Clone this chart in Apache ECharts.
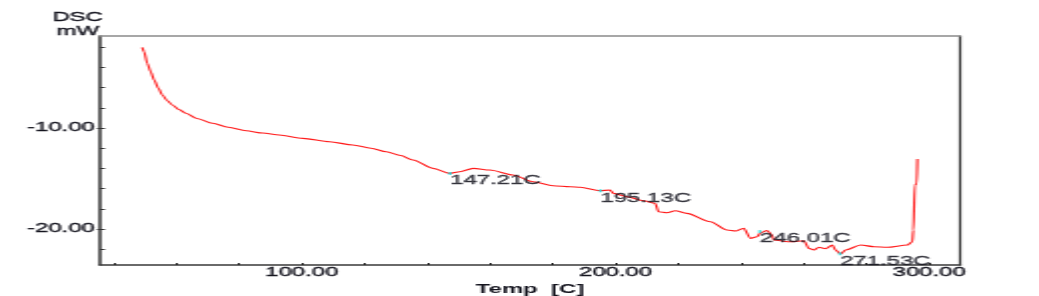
<!DOCTYPE html>
<html>
<head>
<meta charset="utf-8">
<script src="https://cdn.jsdelivr.net/npm/echarts@6/dist/echarts.min.js"></script>
<style>
html,body{margin:0;padding:0;background:#fff;overflow:hidden;}
#chart{width:520px;height:296px;transform:scaleX(1.998);transform-origin:0 0;}
</style>
</head>
<body>
<div id="chart"></div>
<script>
// Temperature (C) and DSC signal (mW)
var temps = [49.1, 49.7, 50.7, 51.8, 52.9, 54.25, 55.5, 57.1, 58.7, 60.8, 63.0, 66.5, 71.5, 76.5, 82.2, 87.5, 92.8, 100.3, 108.8, 116.2, 122.0, 126.9, 131.5, 135.4, 141.8, 147.1, 150.3, 154.6, 159.9, 167.3, 173.7, 180.1, 185.5, 188.7, 195.0, 198.2, 199.3, 203.6, 208.9, 212.6, 213.7, 216.4, 219.0, 222.7, 230.2, 235.5, 238.2, 240.8, 243.0, 245.1, 246.2, 248.3, 249.9, 250.4, 255.8, 260.0, 261.6, 263.2, 264.8, 266.9, 269.1, 270.1, 271.7, 273.3, 278.1, 282.4, 286.6, 293.0, 294.6, 294.9, 295.4, 296.0, 296.2];
var dsc = [-2.01, -2.45, -3.59, -4.43, -5.25, -6.07, -6.73, -7.30, -7.72, -8.17, -8.54, -9.05, -9.53, -9.93, -10.27, -10.50, -10.69, -11.02, -11.36, -11.68, -12.00, -12.35, -12.72, -13.17, -13.99, -14.49, -14.33, -13.99, -14.16, -14.65, -15.32, -15.71, -15.81, -15.87, -16.21, -16.14, -16.47, -16.80, -17.20, -17.46, -18.29, -18.39, -18.19, -18.45, -19.28, -20.10, -20.20, -19.93, -20.92, -20.76, -20.37, -20.15, -20.59, -21.09, -21.26, -21.16, -21.91, -22.08, -21.81, -21.95, -21.58, -22.08, -22.48, -22.08, -21.58, -21.75, -21.81, -21.58, -21.26, -20.10, -15.64, -15.48, -13.07];

// Annotated peaks
var peakTemps = [147.21, 195.13, 246.01, 271.53];
var peakDsc = [-14.49, -16.21, -20.25, -22.45];
var peakLabels = ['147.21C', '195.13C', '246.01C', '271.53C'];

// Axis ticks
var xMin = 35.6, xMax = 309.8;
var yMin = -23.56, yMax = -0.89;
var xTicks = [40, 60, 80, 100, 120, 140, 160, 180, 200, 220, 240, 260, 280, 300];
var xTickLabels = [100, 200, 300];
var yTicks = [-22, -20, -18, -16, -14, -12, -10, -8, -6, -4, -2];
var yTickLabels = [-20, -10];

var FONT = 'Liberation Sans, Arial, sans-serif';
var TXT = '#15151f';
var TB = {textBorderColor: TXT, textBorderWidth: 0.35};

var chart = echarts.init(document.getElementById('chart'), null, {renderer: 'canvas'});
chart.setOption({
  animation: false,
  backgroundColor: '#ffffff',
  grid: {left: 50, right: 39.5, top: 36, bottom: 31, containLabel: false, outerBoundsMode: 'none'},
  graphic: [{
    type: 'text', x: 38.8, y: 11,
    style: {text: 'DSC\nmW', align: 'center', verticalAlign: 'top', fill: TXT,
      font: '12px ' + FONT, lineHeight: 13.5, stroke: TXT, lineWidth: 0.35}
  }],
  xAxis: [{
    type: 'value', min: xMin, max: xMax, position: 'bottom',
    name: 'Temp  [C]', nameLocation: 'middle', nameGap: 10,
    nameTextStyle: {color: TXT, fontSize: 12, fontFamily: FONT, fontWeight: 'bold'},
    axisLine: {show: true, lineStyle: {color: '#3a3a3a', width: 1.5}},
    axisTick: {show: true, inside: true, length: 2, customValues: xTicks, lineStyle: {color: '#222', width: 1}},
    axisLabel: Object.assign({show: true, customValues: xTickLabels, margin: 2, color: TXT, fontSize: 12, fontFamily: FONT,
      formatter: function (v) { return v.toFixed(2); }}, TB),
    splitLine: {show: false}
  }, {
    type: 'value', min: xMin, max: xMax, position: 'top',
    axisLine: {show: true, lineStyle: {color: '#8a8a8a', width: 1.5}},
    axisTick: {show: false}, axisLabel: {show: false}, splitLine: {show: false}
  }],
  yAxis: [{
    type: 'value', min: yMin, max: yMax, position: 'left',
    axisLine: {show: true, lineStyle: {color: '#333', width: 1.5}},
    axisTick: {show: true, inside: true, length: 2.5, customValues: yTicks, lineStyle: {color: '#333', width: 1}},
    axisLabel: Object.assign({show: true, customValues: yTickLabels, margin: 2.5, color: TXT, fontSize: 12, fontFamily: FONT,
      formatter: function (v) { return v.toFixed(2); }}, TB),
    splitLine: {show: false}
  }, {
    type: 'value', min: yMin, max: yMax, position: 'left',
    axisLine: {show: false},
    axisTick: {show: true, inside: false, length: 1.5, customValues: yTickLabels, lineStyle: {color: '#333', width: 1}},
    axisLabel: {show: false}, splitLine: {show: false}
  }, {
    type: 'value', min: yMin, max: yMax, position: 'right',
    axisLine: {show: true, lineStyle: {color: '#333', width: 1.2}},
    axisTick: {show: false}, axisLabel: {show: false}, splitLine: {show: false}
  }],
  series: [{
    type: 'line',
    xAxisIndex: 0, yAxisIndex: 0,
    data: temps.map(function (t, i) { return [t, dsc[i]]; }),
    showSymbol: false,
    smooth: 0.25,
    smoothMonotone: 'x',
    lineStyle: {color: '#ff1a1a', width: 1.1},
    z: 3
  }, {
    type: 'scatter',
    xAxisIndex: 0, yAxisIndex: 0,
    data: peakTemps.map(function (t, i) { return {value: [t, peakDsc[i]], name: peakLabels[i]}; }),
    symbol: 'rect',
    symbolSize: [1.5, 3],
    itemStyle: {color: '#22dede'},
    label: Object.assign({
      show: true, position: ['50%', '100%'], align: 'left', verticalAlign: 'top',
      formatter: function (p) { return p.name; },
      color: TXT, fontSize: 12, fontFamily: FONT
    }, TB),
    z: 4
  }]
});
</script>
</body>
</html>
